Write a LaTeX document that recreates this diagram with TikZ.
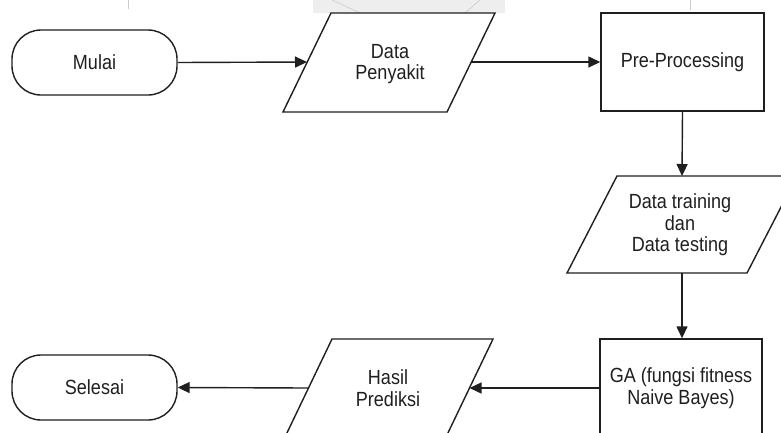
\documentclass[tikz,border=0pt]{standalone}
\usepackage{fontspec}
\setmainfont{Liberation Sans}[FakeStretch=0.88]
\usetikzlibrary{arrows.meta,calc}
\begin{document}
\begin{tikzpicture}[x=1pt,y=-1pt,
  line/.style={draw=black!88,line width=1.4pt},
  arr/.style={line,-{Triangle[length=12pt,width=11pt]}},
  txt/.style={align=center,text=black!88,inner sep=0pt,font=\fontsize{20.5}{21.5}\selectfont},
  term/.style={txt,line,rounded corners=29pt,minimum width=165pt,minimum height=65pt},
  procbox/.style={txt,line},
  para/.style={line,line join=miter}
]
\useasboundingbox (0,0) rectangle (781,432);
\clip (0,0) rectangle (781,432);
% faint watermark at the top edge
\fill[gray!13] (313,0) rectangle (505,13);
\draw[gray!35,line width=0.8pt] (332,0) -- (360,13) (480,0) -- (465,13);
\draw[gray!40,line width=0.8pt] (128,0) -- (128,9) (690,0) -- (690,10);

% nodes
\node[term] (mulai) at (94.5,62.5) {Mulai};
\node[term] (selesai) at (94.5,387.5) {Selesai};
\node[procbox,minimum width=163pt,minimum height=98pt] (pp) at (682.5,62) {Pre-Processing};
\node[procbox,minimum width=162pt,minimum height=98pt] (ga) at (681,388) {GA (fungsi fitness\\Naive Bayes)};
\node[txt] (dp) at (390,64) {Data\\Penyakit};
\node[txt] (dt) at (680,225) {Data training\\dan\\Data testing};
\node[txt] (hp) at (388,388) {Hasil\\Prediksi};

% parallelograms
\draw[para] (331,13) -- (495,13) -- (447,112) -- (283,112) -- cycle;
\draw[para] (617,176) -- (797,176) -- (747,273) -- (567,273) -- cycle;
\draw[para] (332,339) -- (493,339) -- (446,437) -- (285,437) -- cycle;

% edge points on slanted sides
\coordinate (dpL) at (307,62);
\coordinate (dpR) at (471,62);
\coordinate (dtT) at (682,176);
\coordinate (dtB) at (682,273);
\coordinate (hpR) at (469.5,388);
\coordinate (hpL) at (308.5,388);

% connectors
\draw[arr] (mulai.east) -- (dpL);
\draw[arr] (dpR) -- (pp.west);
\draw[arr] (pp.south) -- (dtT);
\draw[arr] (dtB) -- (ga.north -| dtB);
\draw[arr] (ga.west) -- (hpR);
\draw[arr] (hpL) -- (selesai.east);
\end{tikzpicture}
\end{document}
